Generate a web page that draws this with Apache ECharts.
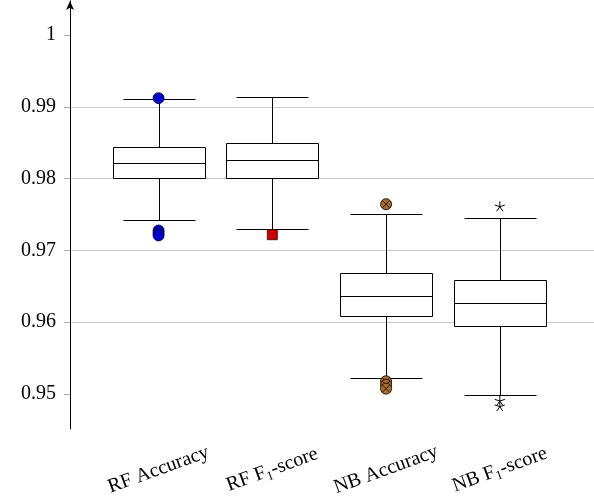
<!DOCTYPE html>
<html>
<head>
<meta charset="utf-8">
<script src="https://cdn.jsdelivr.net/npm/echarts@6/dist/echarts.min.js"></script>
<style>
  html, body { margin: 0; padding: 0; background: #fff; }
  #chart { width: 594px; height: 499px; }
</style>
</head>
<body>
<div id="chart"></div>
<script>
// categories
var categories = ['RF Accuracy', 'RF F{sub|1}-score', 'NB Accuracy', 'NB F{sub|1}-score'];
// [lower whisker, q1, median, q3, upper whisker]
var boxStats = [
    [0.97405, 0.97994, 0.98203, 0.98430, 0.99095],
    [0.97280, 0.97999, 0.98245, 0.98482, 0.99123],
    [0.95195, 0.96063, 0.96341, 0.96662, 0.97497],
    [0.94962, 0.95923, 0.96240, 0.96560, 0.97437]
];
// outliers per category
var rfAccOutliers = [0.99113, 0.97260, 0.97225, 0.97191];
var rfF1Outliers = [0.97201];
var nbAccOutliers = [0.97628, 0.95149, 0.95100, 0.95046];
var nbF1Outliers = [0.97600, 0.94879, 0.94801];
// y ticks
var yTicks = [0.95, 0.96, 0.97, 0.98, 0.99, 1];
var yMin = 0.945125, yMax = 1.004735;

var chart = echarts.init(document.getElementById('chart'));

var font = '"Liberation Serif", "DejaVu Serif", serif';

function renderBox(params, api) {
    var cx = api.coord([api.value(0), 0])[0];
    var band = api.size([1, 0])[0];
    var half = Math.round(band * 0.4);
    var capHalf = Math.round(band * 0.315);
    var px = function (i) { return Math.round(api.coord([api.value(0), api.value(i)])[1]) + 0.5; };
    var lo = px(1), q1 = px(2), med = px(3), q3 = px(4), hi = px(5);
    var x = Math.round(cx) + 0.5;
    var st = { stroke: '#000', lineWidth: 1, fill: null };
    return {
        type: 'group',
        children: [
            { type: 'line', shape: { x1: x, y1: hi, x2: x, y2: q3 }, style: st },
            { type: 'line', shape: { x1: x, y1: q1, x2: x, y2: lo }, style: st },
            { type: 'line', shape: { x1: x - capHalf, y1: hi, x2: x + capHalf, y2: hi }, style: st },
            { type: 'line', shape: { x1: x - capHalf, y1: lo, x2: x + capHalf, y2: lo }, style: st },
            { type: 'rect', shape: { x: x - half, y: q3, width: half * 2, height: q1 - q3 },
              style: { stroke: '#000', lineWidth: 1, fill: '#fff' } },
            { type: 'line', shape: { x1: x - half, y1: med, x2: x + half, y2: med }, style: st }
        ]
    };
}

function pts(idx, arr) {
    return arr.map(function (v) { return [idx, v]; });
}

var otimes = 'path://M0,-10A10,10 0 1,1 0,10A10,10 0 1,1 0,-10ZM-7.07,-7.07L7.07,7.07M-7.07,7.07L7.07,-7.07';
var star = 'path://M0,0L0,-10M0,0L9.51,-3.09M0,0L5.88,8.09M0,0L-5.88,8.09M0,0L-9.51,-3.09';

var option = {
    animation: false,
    backgroundColor: '#fff',
    grid: [
        { left: 70, right: 0, top: 1, bottom: 70 },
        { left: 101.7, right: 37.3, top: 1, bottom: 70 }
    ],
    xAxis: [
        { gridIndex: 0, type: 'value', min: 0, max: 1, show: false },
        {
            gridIndex: 1, type: 'category', data: categories,
            axisLine: { show: false }, axisTick: { show: false },
            axisLabel: {
                rotate: 20, align: 'center', verticalAlign: 'middle', margin: 43,
                color: '#000', fontFamily: font, fontSize: 20,
                rich: {
                    sub: { fontFamily: font, fontSize: 13, verticalAlign: 'bottom', padding: [11, 0, 0, 0], color: '#000' }
                }
            }
        }
    ],
    yAxis: [
        {
            gridIndex: 0, type: 'value', min: yMin, max: yMax,
            axisLine: { show: true, symbol: ['none', 'arrow'], symbolSize: [6, 9], lineStyle: { color: '#000', width: 1 } },
            axisTick: { show: true, length: 6, customValues: yTicks, lineStyle: { color: '#aaa' } },
            axisLabel: {
                customValues: yTicks, color: '#000', fontFamily: font, fontSize: 20, margin: 14,
                formatter: function (v) { return String(+v.toFixed(2)); }
            },
            splitLine: { show: true, showMinLine: false, showMaxLine: false, lineStyle: { color: '#c8c8c8', width: 1 } }
        },
        { gridIndex: 1, type: 'value', min: yMin, max: yMax, show: false, splitLine: { show: false } }
    ],
    series: [
        {
            type: 'custom', xAxisIndex: 1, yAxisIndex: 1,
            renderItem: renderBox,
            encode: { x: 0, y: [1, 2, 3, 4, 5] },
            data: boxStats.map(function (b, i) { return [i].concat(b); }),
            z: 2
        },
        {
            type: 'scatter', xAxisIndex: 1, yAxisIndex: 1, z: 3,
            symbol: 'circle', symbolSize: 11,
            itemStyle: { color: '#0000cc', borderColor: '#000033', borderWidth: 0.8, opacity: 1 },
            data: pts(0, rfAccOutliers)
        },
        {
            type: 'scatter', xAxisIndex: 1, yAxisIndex: 1, z: 3,
            symbol: 'rect', symbolSize: 10,
            itemStyle: { color: '#cc0000', borderColor: '#330000', borderWidth: 0.8, opacity: 1 },
            data: pts(1, rfF1Outliers)
        },
        {
            type: 'scatter', xAxisIndex: 1, yAxisIndex: 1, z: 3,
            symbol: otimes, symbolSize: 11,
            itemStyle: { color: '#a86c32', borderColor: '#2a1a0a', borderWidth: 1, opacity: 1 },
            data: pts(2, nbAccOutliers)
        },
        {
            type: 'scatter', xAxisIndex: 1, yAxisIndex: 1, z: 3,
            symbol: star, symbolSize: 10,
            itemStyle: { color: 'transparent', borderColor: '#000', borderWidth: 1, opacity: 1 },
            data: pts(3, nbF1Outliers)
        }
    ]
};

chart.setOption(option);
</script>
</body>
</html>
